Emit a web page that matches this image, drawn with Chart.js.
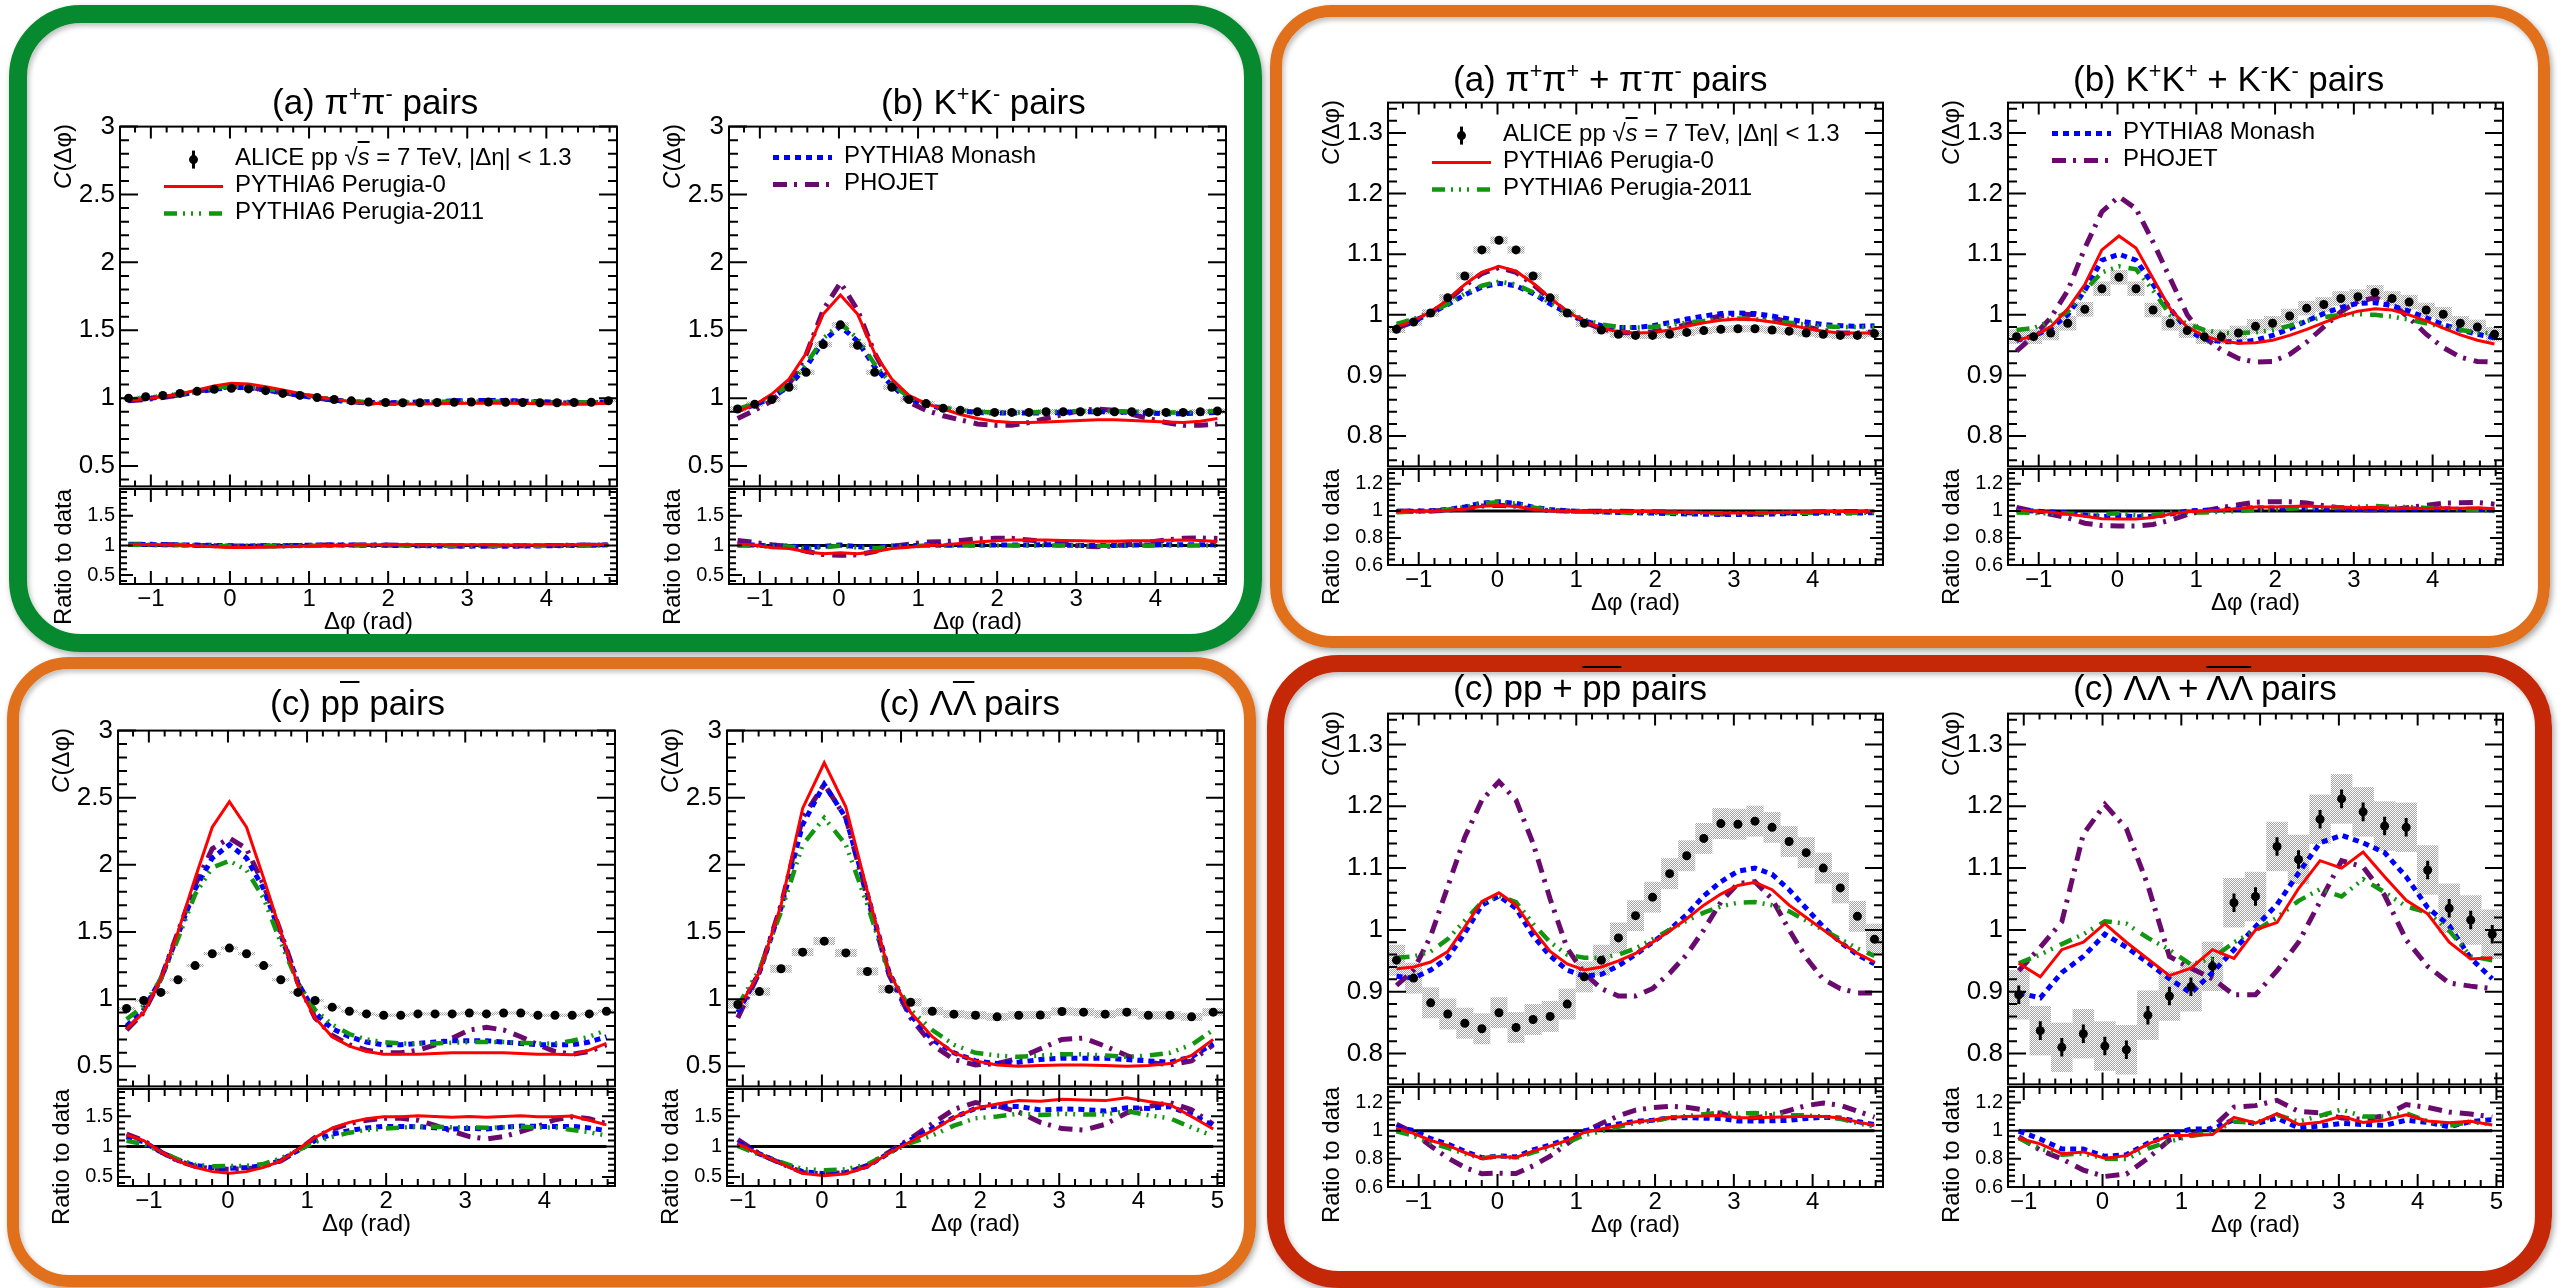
<!DOCTYPE html>
<html>
<head>
<meta charset="utf-8">
<title>Azimuthal correlation functions C(Δφ), ALICE pp 7 TeV vs MC</title>
<script src="https://cdn.jsdelivr.net/npm/chart.js@4.4.1/dist/chart.umd.min.js"></script>
<style>
html, body { margin: 0; padding: 0; background: #fff; }
#page { position: relative; width: 2561px; height: 1288px; overflow: hidden;
        font-family: 'Liberation Sans', Arial, Helvetica, sans-serif; color: #000; }
.box { position: absolute; box-sizing: border-box; border-style: solid;
       box-shadow: 2px 3px 6px rgba(0,0,0,0.35), inset 2px 3px 5px rgba(0,0,0,0.25); }
canvas { position: absolute; }
.txt { position: absolute; white-space: nowrap; }
.vl { position: absolute; white-space: nowrap; text-align: right;
      transform: rotate(-90deg); transform-origin: 0 0; }
.sup { font-size: 62%; position: relative; top: -0.62em; }
.bar { text-decoration: overline; text-decoration-thickness: 2px; }
</style>
</head>
<body>
<div id="page"></div>
<script>
// ---- binning (2*pi wide axis, bins start at lo) ----
const phiBins = { lo: -1.39, n: 29 };
const lamBins = { lo: -1.2, n: 23 };

// ---- tick labels ----
const xTicksPhi = [-1, 0, 1, 2, 3, 4];
const xTicksLam = [-1, 0, 1, 2, 3, 4, 5];
const cTicksUnlike = [0.5, 1, 1.5, 2, 2.5, 3];
const cTicksLike = [0.8, 0.9, 1, 1.1, 1.2, 1.3];
const rTicksUnlike = [0.5, 1, 1.5];
const rTicksLike = [0.6, 0.8, 1, 1.2];

// ---- pi+ pi- ----
const pipmData = [1.0, 1.01, 1.02, 1.035, 1.05, 1.065, 1.072, 1.068, 1.055, 1.035, 1.02, 1.005, 0.99, 0.98, 0.972, 0.968, 0.966, 0.966, 0.968, 0.97, 0.972, 0.972, 0.97, 0.968, 0.966, 0.966, 0.968, 0.97, 0.98];
const pipmP0 = [0.985, 0.995, 1.01, 1.03, 1.06, 1.09, 1.11, 1.105, 1.085, 1.06, 1.035, 1.01, 0.99, 0.975, 0.963, 0.958, 0.956, 0.956, 0.958, 0.96, 0.962, 0.963, 0.962, 0.96, 0.958, 0.957, 0.957, 0.958, 0.962];
const pipmP11 = [0.99, 1.0, 1.015, 1.03, 1.05, 1.075, 1.09, 1.088, 1.07, 1.05, 1.03, 1.01, 0.99, 0.975, 0.968, 0.966, 0.967, 0.97, 0.972, 0.975, 0.976, 0.976, 0.975, 0.972, 0.97, 0.968, 0.968, 0.97, 0.972];
const pipmMon = [0.985, 0.995, 1.01, 1.025, 1.045, 1.065, 1.08, 1.078, 1.06, 1.04, 1.02, 1.0, 0.985, 0.975, 0.968, 0.966, 0.968, 0.972, 0.976, 0.98, 0.982, 0.983, 0.982, 0.978, 0.974, 0.97, 0.968, 0.968, 0.97];
const pipmPho = [0.98, 0.99, 1.005, 1.025, 1.05, 1.07, 1.085, 1.08, 1.06, 1.04, 1.02, 1.0, 0.985, 0.973, 0.965, 0.962, 0.963, 0.967, 0.972, 0.978, 0.982, 0.983, 0.98, 0.975, 0.97, 0.966, 0.964, 0.965, 0.97];

// ---- K+ K- ----
const kpmData = [0.92, 0.955, 0.99, 1.08, 1.19, 1.395, 1.54, 1.39, 1.19, 1.08, 0.99, 0.96, 0.925, 0.91, 0.9, 0.895, 0.895, 0.895, 0.9, 0.9, 0.9, 0.9, 0.9, 0.9, 0.895, 0.895, 0.895, 0.9, 0.905];
const kpmP0 = [0.9, 0.95, 1.03, 1.14, 1.33, 1.62, 1.76, 1.62, 1.33, 1.14, 1.02, 0.96, 0.92, 0.88, 0.85, 0.83, 0.82, 0.82, 0.825, 0.83, 0.835, 0.84, 0.84, 0.835, 0.83, 0.825, 0.82, 0.83, 0.85];
const kpmP11 = [0.92, 0.96, 1.01, 1.1, 1.25, 1.44, 1.55, 1.44, 1.25, 1.1, 1.01, 0.96, 0.93, 0.91, 0.9, 0.895, 0.895, 0.895, 0.9, 0.9, 0.905, 0.905, 0.905, 0.9, 0.9, 0.895, 0.895, 0.9, 0.905];
const kpmMon = [0.91, 0.95, 1.0, 1.09, 1.23, 1.42, 1.53, 1.42, 1.23, 1.09, 1.0, 0.95, 0.925, 0.905, 0.895, 0.89, 0.89, 0.89, 0.89, 0.895, 0.9, 0.9, 0.9, 0.895, 0.89, 0.885, 0.885, 0.89, 0.895];
const kpmPho = [0.85, 0.91, 0.98, 1.1, 1.32, 1.65, 1.85, 1.65, 1.33, 1.1, 0.97, 0.91, 0.87, 0.84, 0.81, 0.8, 0.8, 0.82, 0.85, 0.88, 0.91, 0.92, 0.91, 0.88, 0.85, 0.82, 0.8, 0.8, 0.81];

// ---- pi+ pi+ + pi- pi- ----
const pippData = [0.976, 0.988, 1.003, 1.028, 1.064, 1.107, 1.123, 1.107, 1.064, 1.028, 1.003, 0.986, 0.975, 0.968, 0.966, 0.966, 0.968, 0.971, 0.974, 0.976, 0.977, 0.977, 0.975, 0.973, 0.97, 0.968, 0.966, 0.966, 0.969];
const pippP0 = [0.98, 0.99, 1.005, 1.025, 1.05, 1.07, 1.08, 1.072, 1.052, 1.028, 1.005, 0.99, 0.978, 0.972, 0.97, 0.971, 0.975, 0.981, 0.987, 0.991, 0.993, 0.992, 0.988, 0.983, 0.978, 0.973, 0.97, 0.97, 0.97];
const pippP11 = [0.985, 0.993, 1.004, 1.018, 1.035, 1.048, 1.055, 1.05, 1.037, 1.02, 1.005, 0.992, 0.984, 0.98, 0.979, 0.98, 0.983, 0.987, 0.99, 0.993, 0.994, 0.993, 0.99, 0.987, 0.984, 0.981, 0.98, 0.98, 0.98];
const pippMon = [0.98, 0.99, 1.002, 1.017, 1.033, 1.046, 1.052, 1.048, 1.035, 1.018, 1.003, 0.99, 0.982, 0.979, 0.979, 0.982, 0.987, 0.993, 0.998, 1.002, 1.003, 1.002, 0.998, 0.993, 0.988, 0.984, 0.982, 0.981, 0.982];
const pippPho = [0.978, 0.988, 1.003, 1.023, 1.048, 1.068, 1.078, 1.07, 1.05, 1.026, 1.004, 0.988, 0.977, 0.971, 0.97, 0.972, 0.977, 0.984, 0.992, 0.998, 1.001, 1.0, 0.995, 0.988, 0.98, 0.974, 0.97, 0.97, 0.972];

// ---- K+ K+ + K- K- ----
const kppData = [0.964, 0.964, 0.97, 0.986, 1.009, 1.043, 1.062, 1.043, 1.008, 0.986, 0.974, 0.964, 0.964, 0.97, 0.981, 0.986, 0.998, 1.011, 1.017, 1.027, 1.03, 1.037, 1.027, 1.021, 1.008, 1.001, 0.986, 0.98, 0.968];
const kppP0 = [0.958, 0.965, 0.98, 1.01, 1.05, 1.107, 1.13, 1.11, 1.06, 1.01, 0.98, 0.965, 0.957, 0.953, 0.954, 0.958, 0.966, 0.976, 0.987, 0.998, 1.006, 1.01, 1.008, 1.0, 0.99, 0.978, 0.967, 0.958, 0.952];
const kppP11 = [0.975, 0.978, 0.99, 1.005, 1.04, 1.07, 1.08, 1.075, 1.04, 1.0, 0.985, 0.975, 0.97, 0.97, 0.971, 0.975, 0.982, 0.99, 0.996, 1.0, 1.001, 1.0, 0.997, 0.992, 0.986, 0.98, 0.975, 0.971, 0.969];
const kppMon = [0.958, 0.965, 0.978, 1.0, 1.04, 1.09, 1.1, 1.09, 1.05, 1.01, 0.975, 0.96, 0.956, 0.955, 0.958, 0.966, 0.977, 0.99, 1.002, 1.012, 1.019, 1.02, 1.015, 1.006, 0.995, 0.984, 0.975, 0.968, 0.962];
const kppPho = [0.94, 0.965, 0.995, 1.04, 1.11, 1.17, 1.195, 1.175, 1.12, 1.06, 1.0, 0.963, 0.942, 0.928, 0.922, 0.923, 0.935, 0.955, 0.98, 1.005, 1.022, 1.028, 1.018, 0.995, 0.968, 0.946, 0.93, 0.923, 0.922];

// ---- p pbar ----
const ppbarData = [0.93, 0.99, 1.05, 1.144, 1.25, 1.338, 1.38, 1.338, 1.25, 1.144, 1.05, 0.99, 0.94, 0.91, 0.89, 0.88, 0.88, 0.89, 0.89, 0.89, 0.897, 0.89, 0.897, 0.897, 0.88, 0.88, 0.88, 0.89, 0.91];
const ppbarP0 = [0.78, 0.9, 1.15, 1.5, 1.9, 2.28, 2.47, 2.28, 1.9, 1.5, 1.1, 0.86, 0.72, 0.65, 0.61, 0.59, 0.59, 0.59, 0.595, 0.6, 0.6, 0.6, 0.6, 0.595, 0.59, 0.59, 0.585, 0.62, 0.67];
const ppbarP11 = [0.85, 0.95, 1.15, 1.45, 1.78, 1.98, 2.03, 1.96, 1.75, 1.42, 1.12, 0.92, 0.81, 0.74, 0.7, 0.68, 0.67, 0.67, 0.67, 0.675, 0.68, 0.68, 0.68, 0.675, 0.67, 0.67, 0.69, 0.72, 0.77];
const ppbarMon = [0.8, 0.92, 1.15, 1.48, 1.82, 2.05, 2.15, 2.05, 1.82, 1.48, 1.12, 0.9, 0.78, 0.72, 0.68, 0.66, 0.66, 0.67, 0.68, 0.69, 0.69, 0.69, 0.68, 0.67, 0.66, 0.66, 0.66, 0.68, 0.72];
const ppbarPho = [0.77, 0.9, 1.15, 1.5, 1.85, 2.12, 2.2, 2.12, 1.85, 1.5, 1.12, 0.86, 0.73, 0.66, 0.62, 0.6, 0.6, 0.62, 0.66, 0.71, 0.77, 0.79, 0.77, 0.72, 0.66, 0.61, 0.59, 0.61, 0.66];

// ---- Lambda anti-Lambda ----
const lalbarData = [0.96, 1.056, 1.226, 1.35, 1.432, 1.344, 1.206, 1.074, 0.976, 0.91, 0.888, 0.88, 0.868, 0.88, 0.882, 0.908, 0.903, 0.888, 0.903, 0.88, 0.88, 0.868, 0.903];
const lalbarP0 = [0.92, 1.2, 1.7, 2.42, 2.76, 2.43, 1.8, 1.2, 0.9, 0.72, 0.6, 0.54, 0.51, 0.5, 0.505, 0.51, 0.51, 0.505, 0.5, 0.505, 0.52, 0.58, 0.7];
const lalbarP11 = [0.95, 1.22, 1.65, 2.15, 2.35, 2.15, 1.7, 1.2, 0.92, 0.77, 0.66, 0.6, 0.58, 0.57, 0.58, 0.59, 0.59, 0.58, 0.57, 0.58, 0.6, 0.66, 0.77];
const lalbarMon = [0.9, 1.2, 1.68, 2.3, 2.6, 2.35, 1.78, 1.2, 0.88, 0.7, 0.6, 0.54, 0.52, 0.53, 0.55, 0.56, 0.56, 0.56, 0.55, 0.54, 0.53, 0.57, 0.67];
const lalbarPho = [0.86, 1.2, 1.7, 2.35, 2.6, 2.35, 1.75, 1.18, 0.86, 0.66, 0.55, 0.51, 0.52, 0.56, 0.63, 0.7, 0.71, 0.65, 0.58, 0.53, 0.51, 0.54, 0.66];

// ---- pp + pbar pbar ----
const ppData = [0.951, 0.922, 0.882, 0.864, 0.849, 0.84, 0.866, 0.842, 0.855, 0.86, 0.88, 0.924, 0.951, 0.987, 1.023, 1.053, 1.091, 1.12, 1.148, 1.172, 1.171, 1.176, 1.166, 1.143, 1.125, 1.1, 1.068, 1.022, 0.985];
const ppP0 = [0.937, 0.94, 0.948, 0.965, 1.005, 1.046, 1.06, 1.04, 1.0, 0.965, 0.945, 0.935, 0.94, 0.95, 0.962, 0.98, 0.998, 1.018, 1.04, 1.058, 1.072, 1.077, 1.065, 1.04, 1.02, 1.0, 0.98, 0.962, 0.948];
const ppP11 = [0.955, 0.957, 0.965, 0.985, 1.015, 1.045, 1.055, 1.045, 1.01, 0.98, 0.96, 0.955, 0.955, 0.96, 0.97, 0.985, 1.0, 1.015, 1.028, 1.038, 1.044, 1.045, 1.04, 1.03, 1.015, 1.0, 0.985, 0.97, 0.958];
const ppMon = [0.925, 0.922, 0.935, 0.955, 0.995, 1.04, 1.055, 1.035, 0.99, 0.958, 0.935, 0.925, 0.928, 0.942, 0.96, 0.98, 1.0, 1.025, 1.055, 1.078, 1.095, 1.1, 1.09, 1.065, 1.035, 1.005, 0.98, 0.96, 0.945];
const ppPho = [0.91, 0.935, 0.99, 1.07, 1.15, 1.21, 1.24, 1.21, 1.14, 1.05, 0.97, 0.93, 0.905, 0.893, 0.893, 0.905, 0.93, 0.96, 1.0, 1.045, 1.075, 1.078, 1.05, 1.0, 0.955, 0.92, 0.905, 0.898, 0.898];

// ---- Lambda Lambda + anti ----
const llData = [0.895, 0.837, 0.81, 0.832, 0.812, 0.806, 0.862, 0.893, 0.908, 0.941, 1.044, 1.054, 1.135, 1.114, 1.179, 1.212, 1.191, 1.168, 1.166, 1.097, 1.035, 1.016, 0.993];
const llP0 = [0.946, 0.924, 0.968, 0.98, 1.01, 0.98, 0.953, 0.926, 0.938, 0.968, 0.954, 1.0, 1.012, 1.067, 1.112, 1.1, 1.126, 1.086, 1.048, 1.026, 0.98, 0.953, 0.955];
const llP11 = [0.946, 0.96, 0.977, 0.993, 1.014, 1.01, 0.987, 0.968, 0.944, 0.954, 0.98, 0.999, 1.02, 1.047, 1.066, 1.054, 1.082, 1.061, 1.038, 1.028, 0.999, 0.957, 0.951];
const llMon = [0.898, 0.89, 0.931, 0.957, 0.993, 0.972, 0.947, 0.921, 0.898, 0.931, 0.968, 1.005, 1.041, 1.092, 1.141, 1.153, 1.141, 1.125, 1.086, 1.036, 1.007, 0.954, 0.921];
const llPho = [0.934, 0.972, 1.013, 1.155, 1.203, 1.164, 1.072, 0.957, 0.938, 0.921, 0.895, 0.895, 0.934, 0.98, 1.046, 1.112, 1.102, 1.056, 0.984, 0.941, 0.914, 0.909, 0.905];

// half widths of the uncertainties, one per panel
const systHalf = [0.01, 0.02, 0.006, 0.012, 0.012, 0.03, 0.025, 0.04];
const statHalf = [0.004, 0.008, 0.002, 0.005, 0.008, 0.012, 0.006, 0.015];

// ---- styles ----
const FONT = "'Liberation Sans', Arial, Helvetica, sans-serif";
Chart.defaults.font.family = FONT;
Chart.defaults.color = '#000';

// index 0 = data, 1..4 = models
const modelStyles = [
    null,
    { color: '#ff0000', width: 3, dash: [] },
    { color: '#12960f', width: 4.5, dash: [13, 6, 2, 6, 2, 6, 2, 8] },
    { color: '#0000ff', width: 5, dash: [6, 5] },
    { color: '#6b0a6e', width: 5, dash: [14, 7, 3, 8] }
];
const legendText = [
    'ALICE pp <span>√<span class="bar"><i>s</i></span></span> = 7 TeV, |Δη| &lt; 1.3',
    'PYTHIA6 Perugia-0',
    'PYTHIA6 Perugia-2011',
    'PYTHIA8 Monash',
    'PHOJET'
];

const unlikeAxes = { y: [0.35, 3], yTicks: cTicksUnlike, yMinor: 0.1, r: [0.35, 1.95], rTicks: rTicksUnlike, rMinor: 0.1 };
const likeAxes = { y: [0.75, 1.35], yTicks: cTicksLike, yMinor: 0.02, r: [0.6, 1.31], rTicks: rTicksLike, rMinor: 0.04 };

const boxes = [
    { l: 9, t: 5, r: 1262, b: 652, bw: 18, c: '#078a2f', rad: 72 },
    { l: 1270, t: 5, r: 2550, b: 648, bw: 12, c: '#e0701c', rad: 62 },
    { l: 7, t: 657, r: 1256, b: 1287, bw: 12, c: '#e0701c', rad: 62 },
    { l: 1267, t: 655, r: 2552, b: 1288, bw: 17, c: '#c42806', rad: 72 }
];

const panels = [
    { title: '(a) π<span class="sup">+</span>π<span class="sup">-</span> pairs', tx: 152, ty: 102,
      f: [120, 617, 124, 489, 584], bins: phiBins, xTicks: xTicksPhi, axes: unlikeAxes,
      series: [pipmData, pipmP0, pipmP11, pipmMon, pipmPho], legend: [0, 1, 2] },
    { title: '(b) K<span class="sup">+</span>K<span class="sup">-</span> pairs', tx: 152, ty: 102,
      f: [729, 1226, 124, 489, 584], bins: phiBins, xTicks: xTicksPhi, axes: unlikeAxes,
      series: [kpmData, kpmP0, kpmP11, kpmMon, kpmPho], legend: [3, 4] },
    { title: '(a) π<span class="sup">+</span>π<span class="sup">+</span> + π<span class="sup">-</span>π<span class="sup">-</span> pairs', tx: 65, ty: 79,
      f: [1388, 1883, 100, 469, 565], bins: phiBins, xTicks: xTicksPhi, axes: likeAxes,
      series: [pippData, pippP0, pippP11, pippMon, pippPho], legend: [0, 1, 2] },
    { title: '(b) K<span class="sup">+</span>K<span class="sup">+</span> + K<span class="sup">-</span>K<span class="sup">-</span> pairs', tx: 65, ty: 79,
      f: [2008, 2503, 100, 469, 565], bins: phiBins, xTicks: xTicksPhi, axes: likeAxes,
      series: [kppData, kppP0, kppP11, kppMon, kppPho], legend: [3, 4] },
    { title: '(c) p<span class="bar">p</span> pairs', tx: 152, ty: 703,
      f: [118, 615, 728, 1089, 1186], bins: phiBins, xTicks: xTicksPhi, axes: unlikeAxes,
      series: [ppbarData, ppbarP0, ppbarP11, ppbarMon, ppbarPho], legend: [] },
    { title: '(c) Λ<span class="bar">Λ</span> pairs', tx: 152, ty: 703,
      f: [727, 1224, 728, 1089, 1186], bins: lamBins, xTicks: xTicksLam, axes: unlikeAxes,
      series: [lalbarData, lalbarP0, lalbarP11, lalbarMon, lalbarPho], legend: [] },
    { title: '(c) pp + <span class="bar">pp</span> pairs', tx: 65, ty: 688,
      f: [1388, 1883, 711, 1087, 1187], bins: phiBins, xTicks: xTicksPhi, axes: likeAxes,
      series: [ppData, ppP0, ppP11, ppMon, ppPho], legend: [] },
    { title: '(c) ΛΛ + <span class="bar">ΛΛ</span> pairs', tx: 65, ty: 688,
      f: [2008, 2503, 711, 1087, 1187], bins: lamBins, xTicks: xTicksLam, axes: likeAxes,
      series: [llData, llP0, llP11, llMon, llPho], legend: [] }
];

const page = document.getElementById('page');
const YW = 80, PAD = 18, XH = 44;

function fmt(v) {
    const s = String(+v.toFixed(3));
    return v < 0 ? '\u2212' + s.slice(1) : s;
}

let hatchPattern = null;
function hatch(ctx) {
    if (!hatchPattern) {
        const p = document.createElement('canvas');
        p.width = 2; p.height = 2;
        const g = p.getContext('2d');
        g.fillStyle = '#a2a2a2';
        g.fillRect(0, 0, 1, 1);
        g.fillRect(1, 1, 1, 1);
        hatchPattern = ctx.createPattern(p, 'repeat');
    }
    return hatchPattern;
}

// ROOT-like frame: inward ticks on all sides, syst boxes, legend samples
const rootStyle = {
    id: 'rootStyle',
    beforeDatasetsDraw(chart, args, o) {
        if (!o.syst) return;
        const { ctx, chartArea: a, scales: { x, y } } = chart;
        const pts = chart.data.datasets[0].data;
        ctx.save();
        ctx.beginPath();
        ctx.rect(a.left, a.top, a.right - a.left, a.bottom - a.top);
        ctx.clip();
        ctx.fillStyle = hatch(ctx);
        pts.forEach(p => {
            const x0 = x.getPixelForValue(p.x - o.binW / 2), x1 = x.getPixelForValue(p.x + o.binW / 2);
            const y0 = y.getPixelForValue(p.y + o.syst), y1 = y.getPixelForValue(p.y - o.syst);
            ctx.fillRect(x0, y0, x1 - x0, y1 - y0);
        });
        ctx.strokeStyle = '#000';
        ctx.lineWidth = 3;
        ctx.beginPath();
        pts.forEach(p => {
            const px = x.getPixelForValue(p.x);
            ctx.moveTo(px, y.getPixelForValue(p.y + o.stat));
            ctx.lineTo(px, y.getPixelForValue(p.y - o.stat));
        });
        ctx.stroke();
        ctx.restore();
    },
    afterDatasetsDraw(chart, args, o) {
        const { ctx, chartArea: a, scales: { x, y } } = chart;
        ctx.save();
        ctx.strokeStyle = '#000';
        ctx.lineWidth = 2;
        ctx.setLineDash([]);
        ctx.beginPath();
        const marks = (scale, step, len, vertical) => {
            const k0 = Math.ceil(scale.min / step - 1e-6), k1 = Math.floor(scale.max / step + 1e-6);
            for (let k = k0; k <= k1; k++) {
                const p = scale.getPixelForValue(k * step);
                if (vertical) {
                    ctx.moveTo(p, a.bottom); ctx.lineTo(p, a.bottom - len);
                    ctx.moveTo(p, a.top); ctx.lineTo(p, a.top + len);
                } else {
                    ctx.moveTo(a.left, p); ctx.lineTo(a.left + len, p);
                    ctx.moveTo(a.right, p); ctx.lineTo(a.right - len, p);
                }
            }
        };
        marks(x, 1, o.xLen[0], true);
        marks(x, 0.2, o.xLen[1], true);
        marks(y, o.yMajor, o.yLen[0], false);
        marks(y, o.yMinor, o.yLen[1], false);
        ctx.stroke();
        ctx.strokeRect(a.left, a.top, a.right - a.left, a.bottom - a.top);

        // legend samples
        (o.legend || []).forEach((k, i) => {
            const yy = a.top + o.legY0 + i * 27;
            const x0 = a.left + 44, x1 = a.left + 103;
            if (k === 0) {
                const cx = (x0 + x1) / 2;
                ctx.lineWidth = 3;
                ctx.beginPath();
                ctx.moveTo(cx, yy - 9); ctx.lineTo(cx, yy + 9);
                ctx.stroke();
                ctx.fillStyle = '#000';
                ctx.beginPath();
                ctx.arc(cx, yy, 4.5, 0, 2 * Math.PI);
                ctx.fill();
            } else {
                const s = modelStyles[k];
                ctx.strokeStyle = s.color;
                ctx.lineWidth = s.width;
                ctx.setLineDash(s.dash);
                ctx.beginPath();
                ctx.moveTo(x0, yy); ctx.lineTo(x1, yy);
                ctx.stroke();
                ctx.setLineDash([]);
                ctx.strokeStyle = '#000';
            }
        });
        ctx.restore();
    }
};

function addCanvas(left, top, width, height) {
    const c = document.createElement('canvas');
    c.width = width; c.height = height;
    c.style.left = left + 'px'; c.style.top = top + 'px';
    c.style.width = width + 'px'; c.style.height = height + 'px';
    page.appendChild(c);
    return c.getContext('2d');
}

function addText(html, left, yc, size, center) {
    const d = document.createElement('div');
    d.className = 'txt';
    d.innerHTML = html;
    const lh = Math.round(size * 1.25);
    Object.assign(d.style, { left: left + 'px', top: (yc - lh / 2) + 'px', fontSize: size + 'px', lineHeight: lh + 'px' });
    if (center) d.style.transform = 'translateX(-50%)';
    page.appendChild(d);
}

function addVText(html, cx, yEnd, size) {
    const W = 300, lh = Math.round(size * 1.25);
    const d = document.createElement('div');
    d.className = 'vl';
    d.innerHTML = html;
    Object.assign(d.style, { left: (cx - lh / 2) + 'px', top: (yEnd + W) + 'px', width: W + 'px',
        height: lh + 'px', lineHeight: lh + 'px', fontSize: size + 'px' });
    page.appendChild(d);
}

function lineSet(k, pts) {
    const s = modelStyles[k];
    return { data: pts, borderColor: s.color, borderWidth: s.width, borderDash: s.dash,
             borderCapStyle: 'butt', pointRadius: 0, tension: 0, fill: false, clip: 0 };
}

function yScale(range, ticks, size, pad) {
    return {
        type: 'linear', min: range[0], max: range[1],
        afterBuildTicks: s => { s.ticks = ticks.map(v => ({ value: v })); },
        afterFit: s => { s.width = YW; },
        grid: { display: false, drawTicks: false }, border: { display: false },
        ticks: { font: { size: size }, color: '#000', padding: pad, callback: fmt }
    };
}

// ---- boxes ----
boxes.forEach(b => {
    const d = document.createElement('div');
    d.className = 'box';
    Object.assign(d.style, { left: b.l + 'px', top: b.t + 'px', width: (b.r - b.l) + 'px', height: (b.b - b.t) + 'px',
        borderWidth: b.bw + 'px', borderColor: b.c, borderRadius: b.rad + 'px' });
    page.appendChild(d);
});

// ---- panels ----
panels.forEach((p, idx) => {
    const [L, R, T, S, B] = p.f;
    const w = 2 * Math.PI / p.bins.n;
    const xMin = p.bins.lo, xMax = p.bins.lo + 2 * Math.PI;
    const xs = p.series[0].map((_, i) => p.bins.lo + (i + 0.5) * w);
    const [data, ...models] = p.series;
    const dataPts = data.map((v, i) => ({ x: xs[i], y: v }));
    const ax = p.axes;

    // main pad
    const mainSets = [{ data: dataPts, showLine: false, pointRadius: 4.5, pointBackgroundColor: '#000',
                        pointBorderColor: '#000', pointBorderWidth: 0, borderColor: '#000', clip: 0 }];
    models.forEach((m, j) => mainSets.push(lineSet(j + 1, m.map((v, i) => ({ x: xs[i], y: v })))));
    new Chart(addCanvas(L - YW, T - PAD, (R - L) + YW + PAD, (S - T) + 2 * PAD), {
        type: 'line',
        data: { datasets: mainSets },
        plugins: [rootStyle],
        options: {
            responsive: false, animation: false, devicePixelRatio: 1,
            layout: { padding: { left: 0, top: PAD, right: PAD, bottom: PAD } },
            plugins: {
                legend: { display: false }, tooltip: { enabled: false },
                rootStyle: { syst: systHalf[idx], stat: statHalf[idx], binW: w, xLen: [12, 6], yLen: [18, 9],
                             yMajor: ax.yTicks[1] - ax.yTicks[0], yMinor: ax.yMinor, legend: p.legend,
                             legY0: p.legend.length === 3 ? 33 : 31 }
            },
            scales: {
                x: { type: 'linear', min: xMin, max: xMax, display: false },
                y: yScale(ax.y, ax.yTicks, 26, 5)
            }
        }
    });

    // ratio pad: data / model
    const ratioSets = models.map((m, j) => lineSet(j + 1, m.map((v, i) => ({ x: xs[i], y: data[i] / v }))));
    ratioSets.push({ data: [{ x: xs[0], y: 1 }, { x: xs[xs.length - 1], y: 1 }], borderColor: '#000',
                     borderWidth: 3, pointRadius: 0, tension: 0, clip: 0 });
    new Chart(addCanvas(L - YW, S - PAD, (R - L) + YW + PAD, (B - S) + PAD + XH), {
        type: 'line',
        data: { datasets: ratioSets },
        plugins: [rootStyle],
        options: {
            responsive: false, animation: false, devicePixelRatio: 1,
            layout: { padding: { left: 0, top: PAD, right: PAD, bottom: 0 } },
            plugins: {
                legend: { display: false }, tooltip: { enabled: false },
                rootStyle: { xLen: [13, 7], yLen: [13, 7], yMajor: ax.rTicks[1] - ax.rTicks[0], yMinor: ax.rMinor }
            },
            scales: {
                x: {
                    type: 'linear', min: xMin, max: xMax,
                    afterBuildTicks: s => { s.ticks = p.xTicks.map(v => ({ value: v })); },
                    afterFit: s => { s.height = XH; },
                    grid: { display: false, drawTicks: false }, border: { display: false },
                    ticks: { font: { size: 24 }, color: '#000', padding: 1, maxRotation: 0, autoSkip: false, callback: fmt }
                },
                y: yScale(ax.r, ax.rTicks, 20, 5)
            }
        }
    });

    // texts
    addText(p.title, L + p.tx, p.ty, 35, false);
    addVText('<i>C</i>(Δφ)', L - 57, T, 24);
    addVText('Ratio to data', L - 57, S, 24);
    addText('Δφ (rad)', (L + R) / 2, B + 37, 24, true);
    p.legend.forEach((k, i) => {
        addText(legendText[k], L + 115, T + (p.legend.length === 3 ? 33 : 31) + i * 27, 24, false);
    });
});
</script>
</body>
</html>
